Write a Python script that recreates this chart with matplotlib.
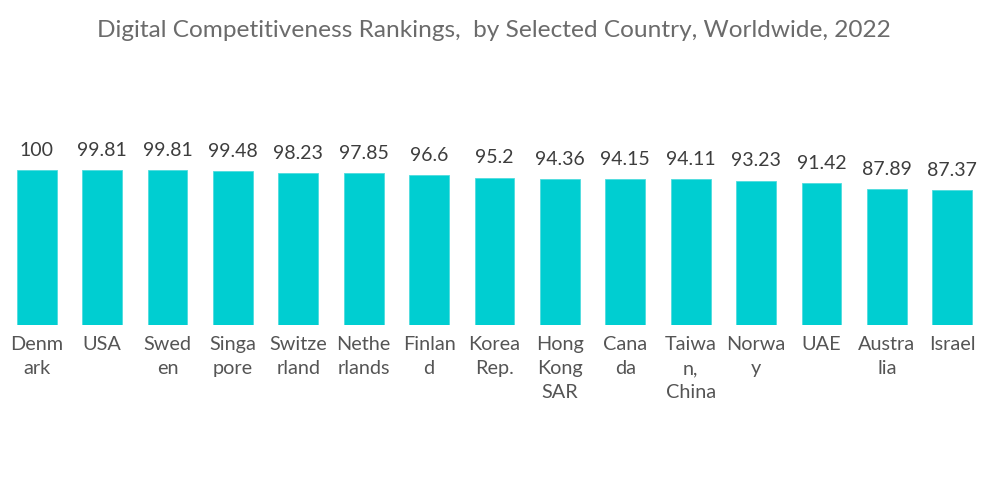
import matplotlib
matplotlib.use('Agg')
import matplotlib.pyplot as plt

countries = ['Denm\nark', 'USA', 'Swed\nen', 'Singa\npore', 'Switze\nrland', 'Nethe\nrlands',
             'Finlan\nd', 'Korea\nRep.', 'Hong\nKong\nSAR', 'Cana\nda', 'Taiwa\nn,\nChina',
             'Norwa\ny', 'UAE', 'Austra\nlia', 'Israel']
scores = [100, 99.81, 99.81, 99.48, 98.23, 97.85, 96.6, 95.2, 94.36, 94.15, 94.11, 93.23,
          91.42, 87.89, 87.37]
score_labels = ['100', '99.81', '99.81', '99.48', '98.23', '97.85', '96.6', '95.2', '94.36',
                '94.15', '94.11', '93.23', '91.42', '87.89', '87.37']

plt.rcParams['font.family'] = ['Lato', 'DejaVu Sans']

fig = plt.figure(figsize=(10, 5.04), dpi=100)
ax = fig.add_axes([0.004, 0.355, 0.981, 0.3075])

x = list(range(len(scores)))
ax.bar(x, scores, width=0.61, color='#00CED1', edgecolor='#4FDCDE', linewidth=0.6)

for i, v in enumerate(scores):
    ax.annotate(score_labels[i], (i, v), xytext=(0, 8), textcoords='offset points',
                ha='center', va='bottom', fontsize=14, color='#3d3d3d')

ax.set_xlim(-0.5, len(scores) - 0.5)
ax.set_ylim(0, 100)
ax.set_xticks(x)
ax.set_xticklabels(countries, fontsize=14.3, color='#555555', linespacing=1.5)
ax.tick_params(axis='x', length=0, pad=8)
ax.set_yticks([])
for s in ax.spines.values():
    s.set_visible(False)

fig.text(0.494, 0.94, 'Digital Competitiveness Rankings,  by Selected Country, Worldwide, 2022',
         ha='center', va='center', fontsize=17.6, color='#6b6b6b')

plt.savefig('out.png')
